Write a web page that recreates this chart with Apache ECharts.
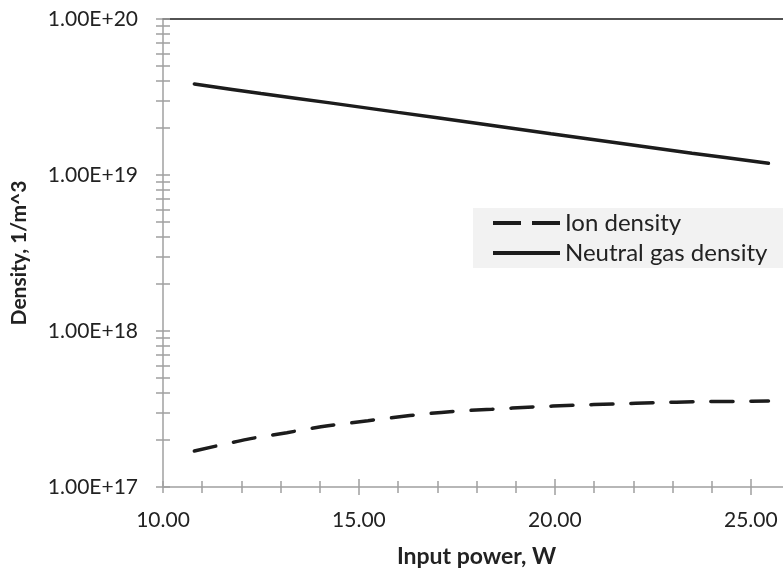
<!DOCTYPE html>
<html>
<head>
<meta charset="utf-8">
<script src="https://cdn.jsdelivr.net/npm/echarts@6/dist/echarts.min.js"></script>
<style>html,body{margin:0;padding:0;background:#fff}#c{width:783px;height:577px}</style>
</head>
<body>
<div id="c"></div>
<script>
var ionPower = [10.8, 12.14, 13.16, 14.21, 15.23, 16.30, 17.32, 18.39, 19.44, 20.46, 21.53, 22.59, 23.61, 24.67, 25.45];
var ionDensity = [1.70e17, 2.02e17, 2.23e17, 2.47e17, 2.66e17, 2.87e17, 3.04e17, 3.15e17, 3.26e17, 3.34e17, 3.41e17, 3.47e17, 3.52e17, 3.54e17, 3.56e17];
var neutralPower = [10.8, 12.5, 14.26, 16.0, 18.09, 19.9, 21.66, 23.5, 25.45];
var neutralDensity = [3.83e19, 3.33e19, 2.90e19, 2.52e19, 2.13e19, 1.84e19, 1.60e19, 1.38e19, 1.19e19];
var xTickLabels = [10, 15, 20, 25];
var yTickLabels = [1e17, 1e18, 1e19, 1e20];
var seriesNames = ['Ion density', 'Neutral gas density'];

var xMinor = [];
for (var i = 10; i <= 26; i++) xMinor.push(i);
var yMinor = [];
for (var d = 17; d < 20; d++) for (var m = 1; m <= 9; m++) yMinor.push(m * Math.pow(10, d));
yMinor.push(1e20);

function zip(a, b) { return a.map(function (v, i) { return [v, b[i]]; }); }

var font = 'Lato, "Open Sans", sans-serif';
var axisGray = '#a0a0a0';
var lineColor = '#1c1c1c';

function xAx(opts) {
  var base = {
    type: 'value', min: 10, max: 26, interval: 5, position: 'bottom',
    axisLine: { show: false, lineStyle: { color: axisGray, width: 1.5 } },
    axisTick: { show: false },
    axisLabel: { show: false },
    splitLine: { show: false }
  };
  return Object.assign(base, opts);
}
function yAx(opts) {
  var base = {
    type: 'log', logBase: 10, min: 1e17, max: 1e20, position: 'left',
    axisLine: { show: false, lineStyle: { color: axisGray, width: 1.5 } },
    axisTick: { show: false },
    axisLabel: { show: false },
    splitLine: { show: false }
  };
  return Object.assign(base, opts);
}

var chart = echarts.init(document.getElementById('c'), null, { renderer: 'canvas' });
chart.setOption({
  animation: false,
  backgroundColor: '#ffffff',
  grid: { left: 163, top: 19, bottom: 90, right: -7, outerBoundsMode: 'none', containLabel: false },
  legend: {
    data: [
      { name: seriesNames[0], icon: 'path://M0,0h28v4h-28z M39,0h28v4h-28z' },
      { name: seriesNames[1], icon: 'path://M0,0h67v4h-67z' }
    ],
    orient: 'vertical',
    left: 473, top: 208,
    backgroundColor: '#f2f2f2',
    padding: [3, 22, 3, 20],
    itemWidth: 67, itemHeight: 4, itemGap: 6,
    itemStyle: { color: lineColor, borderWidth: 0 },
    lineStyle: { width: 0 },
    textStyle: { fontFamily: font, fontSize: 24, lineHeight: 24, color: '#222', padding: [0, 0, 0, 0] }
  },
  xAxis: [
    xAx({
      name: 'Input power, W', nameLocation: 'middle', nameGap: 58,
      nameTextStyle: { fontFamily: font, fontSize: 23, fontWeight: 'bold', color: '#222' },
      axisLine: { show: true, lineStyle: { color: axisGray, width: 1.5 } },
      axisTick: { show: true, length: 8, customValues: [15, 20, 25], lineStyle: { color: axisGray, width: 1.5 } },
      axisLabel: {
        show: true, margin: 23, customValues: xTickLabels, fontFamily: font, fontSize: 21, color: '#222',
        formatter: function (v) { return v.toFixed(2); }
      }
    }),
    xAx({ axisTick: { show: true, length: 6, customValues: xMinor, lineStyle: { color: axisGray, width: 1.5 } } }),
    xAx({ axisTick: { show: true, inside: true, length: 6, customValues: xMinor, lineStyle: { color: axisGray, width: 1.5 } } }),
    xAx({ axisTick: { show: true, inside: true, length: 8, customValues: [15, 20, 25], lineStyle: { color: axisGray, width: 1.5 } } }),
    xAx({ position: 'top', axisLine: { show: true, lineStyle: { color: '#1a1a1a', width: 1.5 } } })
  ],
  yAxis: [
    yAx({
      name: 'Density, 1/m^3', nameLocation: 'middle', nameGap: 133,
      nameTextStyle: { fontFamily: font, fontSize: 21, fontWeight: 'bold', color: '#222' },
      axisLine: { show: true, lineStyle: { color: axisGray, width: 1.5 } },
      axisTick: { show: true, length: 7, customValues: yMinor, lineStyle: { color: axisGray, width: 1.5 } },
      axisLabel: {
        show: true, margin: 25, customValues: yTickLabels, fontFamily: font, fontSize: 21, color: '#222',
        formatter: function (v) { return v.toExponential(2).toUpperCase(); }
      }
    }),
    yAx({ axisTick: { show: true, inside: true, length: 7, customValues: yMinor, lineStyle: { color: axisGray, width: 1.5 } } })
  ],
  series: [
    {
      name: seriesNames[0], type: 'line', xAxisIndex: 0, yAxisIndex: 0,
      data: zip(ionPower, ionDensity), smooth: 0.3, symbol: 'none', showSymbol: false,
      lineStyle: { color: lineColor, width: 3.5, type: [22, 18], cap: 'round' },
      itemStyle: { color: lineColor }
    },
    {
      name: seriesNames[1], type: 'line', xAxisIndex: 0, yAxisIndex: 0,
      data: zip(neutralPower, neutralDensity), smooth: 0.3, symbol: 'none', showSymbol: false,
      lineStyle: { color: lineColor, width: 3.5, type: 'solid', cap: 'round' },
      itemStyle: { color: lineColor }
    }
  ]
});
</script>
</body>
</html>
